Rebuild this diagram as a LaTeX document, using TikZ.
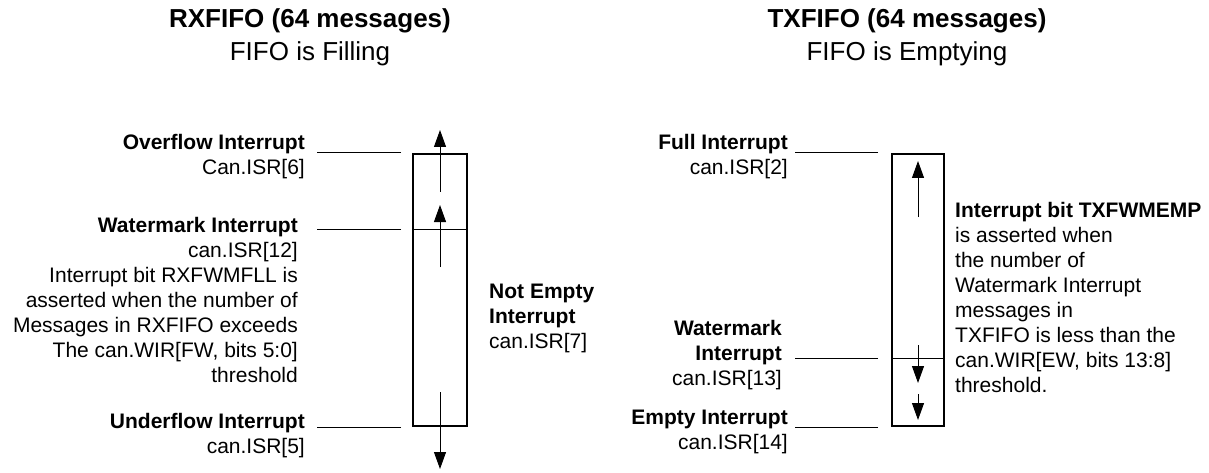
\documentclass[tikz,border=0pt]{standalone}
\usepackage{fontspec}
\setmainfont{Liberation Sans}
\usepackage{tikz}
\usetikzlibrary{arrows.meta,positioning,calc}
\tikzset{
  fifo/.style={draw, line width=2pt, minimum width=54pt, minimum height=272pt, inner sep=0pt},
  heading/.style={align=center, anchor=base, inner sep=0pt, font=\fontsize{26}{33}\selectfont},
  lbl/.style={align=right, anchor=base east, inner sep=0pt, font=\fontsize{21}{25}\selectfont},
  note/.style={align=left, anchor=base west, inner sep=0pt, font=\fontsize{21}{25}\selectfont},
  leader/.style={line width=1pt},
  wmline/.style={line width=1pt},
  flow/.style={line width=1pt, -{Triangle[length=17pt, width=12pt]}}
}

\begin{document}
\begin{tikzpicture}[x=1pt, y=-1pt]
  \useasboundingbox (0,0) rectangle (1209,473);

  % RXFIFO side (nodes sit on the baseline of their last line)
  \node[heading] (rxtitle) at (310,61) {\textbf{RXFIFO (64 messages)}\\FIFO is Filling};
  \node[fifo] (rxbox) at (440,290) {};
  \draw[wmline] (rxbox.west |- 0,229) coordinate (rxwm) -- (rxbox.east |- 0,229);

  \node[lbl] (ovf) at (305,175) {\textbf{Overflow Interrupt}\\Can.ISR[6]};
  \node[lbl] (rxwmtxt) at (298,382) {\textbf{Watermark Interrupt}\\can.ISR[12]\\Interrupt bit RXFWMFLL is\\asserted when the number of\\Messages in RXFIFO exceeds\\The can.WIR[FW, bits 5:0]\\threshold};
  \node[lbl] (udf) at (305,453) {\textbf{Underflow Interrupt}\\can.ISR[5]};
  \node[note] (notempty) at (489,348) {\textbf{Not Empty}\\\textbf{Interrupt}\\can.ISR[7]};

  \draw[leader] ($(rxbox.north west)+(-11,0)$) -- ++(-84,0);
  \draw[leader] ($(rxwm)+(-11,0)$) -- ++(-84,0);
  \draw[leader] ($(rxbox.south west)+(-11,0)$) -- ++(-84,0);

  \draw[flow] ($(rxbox.north)+(0,39)$) -- ($(rxbox.north)+(0,-23)$);
  \draw[flow] ($(rxbox.north)+(0,114)$) -- ($(rxbox.north)+(0,52)$);
  \draw[flow] ($(rxbox.south)+(0,-35)$) -- ($(rxbox.south)+(0,42)$);

  % TXFIFO side
  \node[heading] (txtitle) at (907,61) {\textbf{TXFIFO (64 messages)}\\FIFO is Emptying};
  \node[fifo, minimum width=52pt] (txbox) at (918,290) {};
  \draw[wmline] (txbox.west |- 0,358) coordinate (txwm) -- (txbox.east |- 0,358);

  \node[lbl] (full) at (788,175) {\textbf{Full Interrupt}\\can.ISR[2]};
  \node[lbl] (txwmtxt) at (782,385) {\textbf{Watermark}\\\textbf{Interrupt}\\can.ISR[13]};
  \node[lbl] (empty) at (788,449) {\textbf{Empty Interrupt}\\can.ISR[14]};
  \node[note] (txnote) at (955,392) {\textbf{Interrupt bit TXFWMEMP}\\is asserted when\\the number of\\Watermark Interrupt\\messages in\\TXFIFO is less than the\\can.WIR[EW, bits 13:8]\\threshold.};

  \draw[leader] ($(txbox.north west)+(-13,0)$) -- ++(-83,0);
  \draw[leader] ($(txwm)+(-13,0)$) -- ++(-83,0);
  \draw[leader] ($(txbox.south west)+(-13,0)$) -- ++(-83,0);

  \draw[flow] ($(txbox.north)+(0,64)$) -- ($(txbox.north)+(0,8)$);
  \draw[flow] ($(txwm -| txbox.north)+(0,-13)$) -- ($(txwm -| txbox.north)+(0,25)$);
  \draw[flow] ($(txbox.south)+(0,-33)$) -- ($(txbox.south)+(0,-7)$);
\end{tikzpicture}
\end{document}
